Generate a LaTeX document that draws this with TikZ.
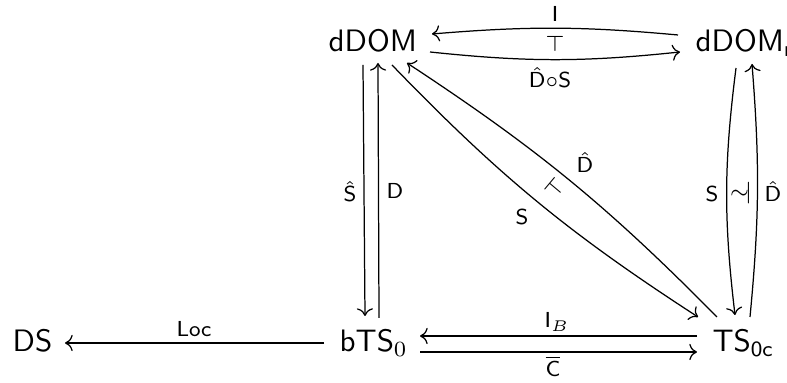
\documentclass[tikz,border=0pt]{standalone}
\usetikzlibrary{arrows.meta}
\tikzset{
  obj/.style={inner sep=0pt, anchor=base west, font=\sffamily},
  lab/.style={inner sep=0pt, anchor=base, font=\scriptsize},
  adj/.style={inner sep=0pt, font=\scriptsize},
  arr/.style={-{Computer Modern Rightarrow}, line width=0.4pt}}

\begin{document}
\begin{tikzpicture}[x=0.3226pt, y=-0.3226pt]
\clip (0,0) rectangle (787,383);
% objects
\node[obj] (dDOM) at (328,52) {dDOM};
\node[obj] (dDOMr) at (695,52) {dDOM$_{\mathsf{r}}$};
\node[obj] (bTS) at (339,352) {bTS$_0$};
\node[obj] (TSc) at (712,352) {TS$_{\mathsf{0c}}$};
\node[obj] (DS) at (12,352) {DS};
% top row
\draw[arr] ([shift={(-17,-17)}]dDOMr.base west) to[bend right=5] ([shift={(104,-18)}]dDOM.base west);
\draw[arr] ([shift={(102,0)}]dDOM.base west) to[bend right=6] ([shift={(-15,0)}]dDOMr.base west);
\node[lab] (lI) at (555,22) {$\mathsf{I}$};
\node[adj] (adjTop) at (555,44) {$\top$};
\node[lab] (lDS) at (550,88) {$\hat{\mathsf{D}}{\circ}\mathsf{S}$};
% left column
\draw[arr] ([shift={(35,13)}]dDOM.base west) -- ([shift={(26,-36)}]bTS.base west);
\draw[arr] ([shift={(40,-34)}]bTS.base west) -- ([shift={(50,11)}]dDOM.base west);
\node[lab] (lS) at (350,202) {$\hat{\mathsf{S}}$};
\node[lab] (lD) at (395,199) {$\mathsf{D}$};
% diagonal
\draw[arr] ([shift={(64,13)}]dDOM.base west) to[bend right=6.5] ([shift={(-14,-35)}]TSc.base west);
\draw[arr] ([shift={(5,-35)}]TSc.base west) to[bend right=6] ([shift={(79,11)}]dDOM.base west);
\node[lab] (lSd) at (522,225) {$\mathsf{S}$};
\node[lab] (lDd) at (585,173) {$\hat{\mathsf{D}}$};
\node[adj, rotate=50] (adjDiag) at (555,188) {$\top$};
% right column
\draw[arr] ([shift={(41,16)}]dDOMr.base west) to[bend right=7] ([shift={(23,-37)}]TSc.base west);
\draw[arr] ([shift={(38,-35)}]TSc.base west) to[bend right=5] ([shift={(57,12)}]dDOMr.base west);
\node[lab] (lSr) at (712,202) {$\mathsf{S}$};
\node[lab] (lDr) at (773,202) {$\hat{\mathsf{D}}$};
\node[adj] (adjRight) at (741,193) {${\sim}\mkern-3mu{\mid}$};
% bottom row
\draw[arr] ([shift={(-15,-16)}]TSc.base west) -- ([shift={(81,-16)}]bTS.base west);
\draw[arr] ([shift={(81,0)}]bTS.base west) -- ([shift={(-15,0)}]TSc.base west);
\node[lab] (lIB) at (557,328) {$\mathsf{I}_B$};
\node[lab] (lC) at (553,377) {$\overline{\mathsf{C}}$};
\draw[arr] ([shift={(-15,-9)}]bTS.base west) -- ([shift={(53,-9)}]DS.base west);
\node[lab] (lLoc) at (194,337) {$\mathsf{Loc}$};
\end{tikzpicture}
\end{document}
